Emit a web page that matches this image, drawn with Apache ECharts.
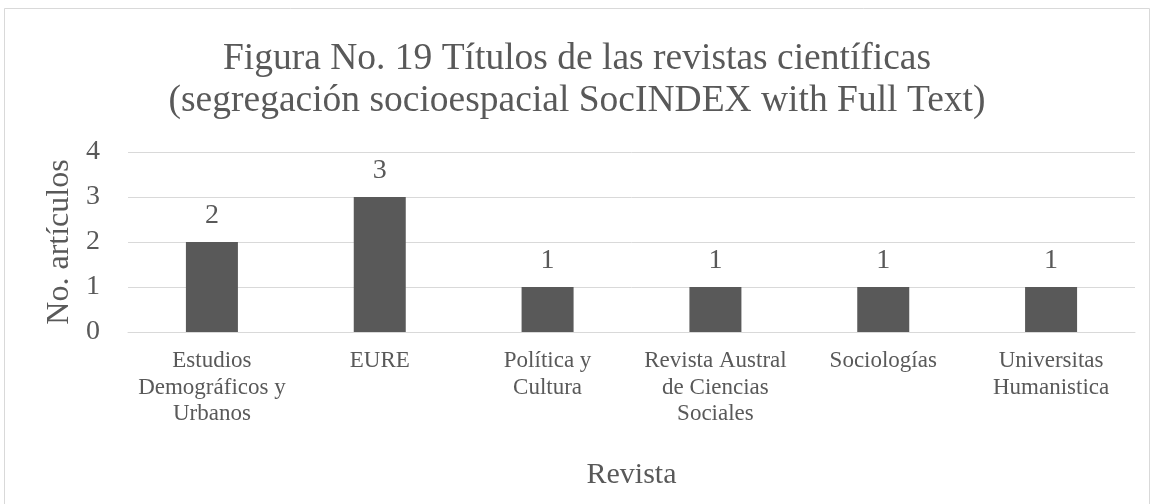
<!DOCTYPE html>
<html>
<head>
<meta charset="utf-8">
<script src="https://cdn.jsdelivr.net/npm/echarts@6/dist/echarts.min.js"></script>
<style>
html,body{margin:0;padding:0;background:#fff;}
#chart{width:1154px;height:504px;}
</style>
</head>
<body>
<div id="chart"></div>
<script>
const categories = [
  'Estudios\nDemográficos y\nUrbanos',
  'EURE',
  'Política y\nCultura',
  'Revista Austral\nde Ciencias\nSociales',
  'Sociologías',
  'Universitas\nHumanistica'
];
const values = [2, 3, 1, 1, 1, 1];
const yTicks = [0, 1, 2, 3, 4];

const FONT = '"Liberation Serif", "Times New Roman", serif';
const TXT = '#595959';

const chart = echarts.init(document.getElementById('chart'));
chart.setOption({
  backgroundColor: '#fff',
  animation: false,
  title: {
    text: 'Figura No. 19 Títulos de las revistas científicas\n(segregación socioespacial SocINDEX with Full Text)',
    left: 'center',
    top: 33,
    textStyle: { fontFamily: FONT, fontSize: 37.5, fontWeight: 'normal', color: TXT, lineHeight: 42 }
  },
  graphic: [{
    type: 'rect',
    shape: { x: 4.5, y: 8.5, width: 1145, height: 500 },
    style: { fill: 'none', stroke: '#d9d9d9', lineWidth: 1 },
    silent: true
  }],
  grid: { left: 128, right: 19, top: 152, bottom: 172, containLabel: false },
  xAxis: {
    type: 'category',
    data: categories,
    name: 'Revista',
    nameLocation: 'middle',
    nameGap: 128,
    nameTextStyle: { fontFamily: FONT, fontSize: 30, color: TXT },
    axisLine: { show: true, lineStyle: { color: '#d9d9d9' } },
    axisTick: { show: false },
    axisLabel: { interval: 0, margin: 16, fontFamily: FONT, fontSize: 23, lineHeight: 26.5, color: TXT, align: 'center' }
  },
  yAxis: {
    type: 'value',
    min: yTicks[0],
    max: yTicks[yTicks.length - 1],
    interval: 1,
    name: 'No. artículos',
    nameLocation: 'middle',
    nameGap: 52,
    nameRotate: 90,
    nameTextStyle: { fontFamily: FONT, fontSize: 32, color: TXT },
    axisLine: { show: false },
    axisTick: { show: false },
    axisLabel: { margin: 28, fontFamily: FONT, fontSize: 28, color: TXT },
    splitLine: { lineStyle: { color: '#d9d9d9' } }
  },
  series: [{
    type: 'bar',
    data: values,
    barWidth: 52,
    itemStyle: { color: '#595959' },
    label: { show: true, position: 'top', distance: 12, fontFamily: FONT, fontSize: 28, color: TXT }
  }]
});
</script>
</body>
</html>
